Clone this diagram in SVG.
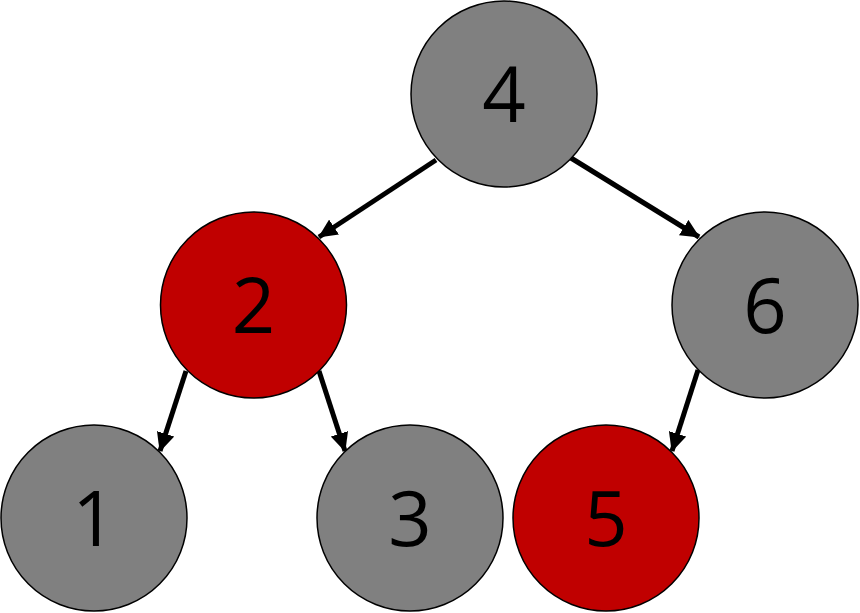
<svg xmlns="http://www.w3.org/2000/svg" width="860" height="613" viewBox="0 0 860 613">
<style>
.n{stroke:#000;stroke-width:1.5}
.g{fill:#808080}
.r{fill:#C00000}
.t{font-family:"Open Sans","Noto Sans",sans-serif;font-size:76px;fill:#000;text-anchor:middle}
.e{stroke:#000;stroke-width:5;fill:none;marker-end:url(#ah)}
</style>
<defs>
<marker id="ah" markerUnits="userSpaceOnUse" markerWidth="20" markerHeight="18" refX="18" refY="9" orient="auto" viewBox="0 0 20 18">
<path d="M0,0 L19,9 L0,18 z" fill="#000"/>
</marker>
</defs>
<g id="connectors">
<line class="e" x1="436" y1="160" x2="319" y2="237"/>
<line class="e" x1="571" y1="158" x2="699" y2="237"/>
<line class="e" x1="186" y1="371" x2="160" y2="451"/>
<line class="e" x1="319" y1="371" x2="345" y2="451"/>
<line class="e" x1="698" y1="370" x2="672" y2="451"/>
</g>
<g id="node4"><circle class="n g" cx="504" cy="94" r="93"/><text class="t" x="504" y="122">4</text></g>
<g id="node2"><circle class="n r" cx="253.5" cy="305" r="93"/><text class="t" x="253.5" y="333">2</text></g>
<g id="node6"><circle class="n g" cx="765" cy="305" r="93"/><text class="t" x="765" y="333">6</text></g>
<g id="node1"><circle class="n g" cx="94" cy="518" r="93"/><text class="t" x="94" y="546">1</text></g>
<g id="node3"><circle class="n g" cx="410" cy="518" r="93"/><text class="t" x="410" y="546">3</text></g>
<g id="node5"><circle class="n r" cx="606" cy="518" r="93"/><text class="t" x="606" y="546">5</text></g>
</svg>
